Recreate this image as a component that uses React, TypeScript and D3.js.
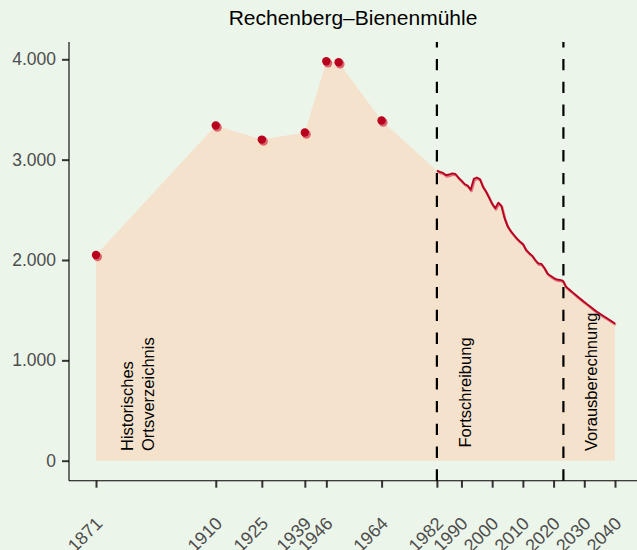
import React, { useEffect, useRef } from 'react';
import * as d3 from 'd3';

// Historisches Ortsverzeichnis (einzelne Zählungen)
const histYears = [1871, 1910, 1925, 1939, 1946, 1950, 1964];
const histPop = [2050, 3340, 3200, 3270, 3980, 3970, 3390];

// Fortschreibung 1982–2023
const fortYears = d3.range(1982, 2024);
const fortPop = [
  2890, 2878, 2868, 2845, 2852, 2864, 2858, 2822, 2790, 2758,
  2742, 2700, 2808, 2822, 2806, 2730, 2682, 2622, 2560, 2516,
  2572, 2540, 2420, 2338, 2290, 2252, 2216, 2186, 2160, 2102,
  2070, 2044, 2000, 1966, 1962, 1920, 1866, 1842, 1822, 1806,
  1802, 1795,
];

// Vorausberechnung 2024–2040
const projYears = d3.range(2024, 2041);
const projPop = [
  1735, 1709, 1683, 1657, 1631, 1606, 1582, 1558, 1534, 1510,
  1486, 1466, 1446, 1427, 1407, 1388, 1368,
];

const xTicks = [1871, 1910, 1925, 1939, 1946, 1964, 1982, 1990, 2000, 2010, 2020, 2030, 2040];
const yTicks = [0, 1000, 2000, 3000, 4000];
const breakYears = [1982, 2023.2];

const title = 'Rechenberg–Bienenmühle';

const W = 637;
const H = 550;
const FONT = '"Liberation Sans", Arial, sans-serif';

const de = d3.formatLocale({ decimal: ',', thousands: '.', grouping: [3], currency: ['', ' €'] });

const Chart: React.FC = () => {
  const svgRef = useRef<SVGSVGElement>(null);

  useEffect(() => {
    if (!svgRef.current) return;
    const svg = d3.select(svgRef.current);
    svg.selectAll('*').remove();

    const panel = { left: 69, top: 42, right: W, bottom: 480.7 };

    const x = d3.scaleLinear().domain([1871, 2040]).range([96, 615]);
    const y = d3.scaleLinear().domain([0, 4000]).range([460.7, 59.3]);

    svg.append('rect').attr('width', W).attr('height', H).attr('fill', '#ecf5ea');

    const hist = histYears.map((yr, i) => ({ year: yr, pop: histPop[i] }));
    const yearly = fortYears.map((yr, i) => ({ year: yr, pop: fortPop[i] }))
      .concat(projYears.map((yr, i) => ({ year: yr, pop: projPop[i] })));
    const all = hist.concat(yearly);

    // Fläche
    const area = d3.area<{ year: number; pop: number }>()
      .x((d) => x(d.year))
      .y0(y(0))
      .y1((d) => y(d.pop));
    svg.append('path').datum(all).attr('d', area).attr('fill', '#f5e2cc');

    // Linie (Schatten + Linie)
    const line = d3.line<{ year: number; pop: number }>()
      .x((d) => x(d.year))
      .y((d) => y(d.pop));
    svg.append('path').datum(yearly).attr('d', line)
      .attr('fill', 'none').attr('stroke', '#e0707c').attr('stroke-width', 2.4)
      .attr('stroke-linejoin', 'round')
      .attr('transform', 'translate(0.8,1.3)');
    svg.append('path').datum(yearly).attr('d', line)
      .attr('fill', 'none').attr('stroke', '#b5001f').attr('stroke-width', 1.8)
      .attr('stroke-linejoin', 'round');

    // Punkte
    const pts = svg.append('g');
    pts.selectAll('circle.light').data(hist).join('circle')
      .attr('class', 'light')
      .attr('cx', (d) => x(d.year) + 1.6).attr('cy', (d) => y(d.pop) + 1.8)
      .attr('r', 4.4).attr('fill', '#dc6670');
    pts.selectAll('circle.dark').data(hist).join('circle')
      .attr('class', 'dark')
      .attr('cx', (d) => x(d.year)).attr('cy', (d) => y(d.pop))
      .attr('r', 4.2).attr('fill', '#b8001e');

    // Trennlinien
    svg.selectAll('line.brk').data(breakYears).join('line')
      .attr('class', 'brk')
      .attr('x1', (d) => x(d)).attr('x2', (d) => x(d))
      .attr('y1', panel.bottom).attr('y2', panel.top)
      .attr('stroke', '#000').attr('stroke-width', 2.2)
      .attr('stroke-dasharray', '11.4 11.4');

    // Beschriftungen der Abschnitte
    const notes = [
      { t: 'Historisches', x: 133, y: 451 },
      { t: 'Ortsverzeichnis', x: 154, y: 451 },
      { t: 'Fortschreibung', x: 470.5, y: 447.5 },
      { t: 'Vorausberechnung', x: 597.3, y: 451 },
    ];
    svg.selectAll('text.note').data(notes).join('text')
      .attr('class', 'note')
      .attr('transform', (d) => `translate(${d.x},${d.y}) rotate(-90)`)
      .attr('font-family', FONT).attr('font-size', 16.5).attr('fill', '#000')
      .text((d) => d.t);

    // Achsen
    const yAxis = svg.append('g').attr('transform', `translate(${panel.left},0)`)
      .call(d3.axisLeft(y).tickValues(yTicks).tickSize(7).tickPadding(6)
        .tickFormat((d) => de.format(',')(d as number)));
    yAxis.select('.domain').remove();
    yAxis.selectAll('.tick line').attr('stroke', '#333').attr('stroke-width', 2);
    yAxis.selectAll('.tick text').attr('font-family', FONT).attr('font-size', 17.5)
      .attr('fill', '#4d4d4d');

    const xAxis = svg.append('g').attr('transform', `translate(0,${panel.bottom})`)
      .call(d3.axisBottom(x).tickValues(xTicks).tickSize(7).tickFormat(d3.format('d')));
    xAxis.select('.domain').remove();
    xAxis.selectAll('.tick line').attr('stroke', '#333').attr('stroke-width', 2);
    xAxis.selectAll('.tick text')
      .attr('font-family', FONT).attr('font-size', 18).attr('fill', '#4d4d4d')
      .attr('text-anchor', 'end').attr('x', 0).attr('y', 0).attr('dy', 0)
      .attr('transform', 'translate(7,44) rotate(-45)');

    svg.append('line').attr('x1', panel.left).attr('x2', panel.left)
      .attr('y1', panel.top).attr('y2', panel.bottom)
      .attr('stroke', '#000').attr('stroke-width', 1.1);
    svg.append('line').attr('x1', panel.left).attr('x2', panel.right)
      .attr('y1', panel.bottom).attr('y2', panel.bottom)
      .attr('stroke', '#000').attr('stroke-width', 1.1);

    svg.append('text')
      .attr('x', (panel.left + panel.right) / 2).attr('y', 25)
      .attr('text-anchor', 'middle')
      .attr('font-family', FONT).attr('font-size', 21).attr('fill', '#000')
      .text(title);
  }, []);

  return (
    <svg ref={svgRef} width={W} height={H}
      style={{ position: 'absolute', left: 0, top: 0, display: 'block' }} />
  );
};

export default function App() {
  return <Chart />;
}
